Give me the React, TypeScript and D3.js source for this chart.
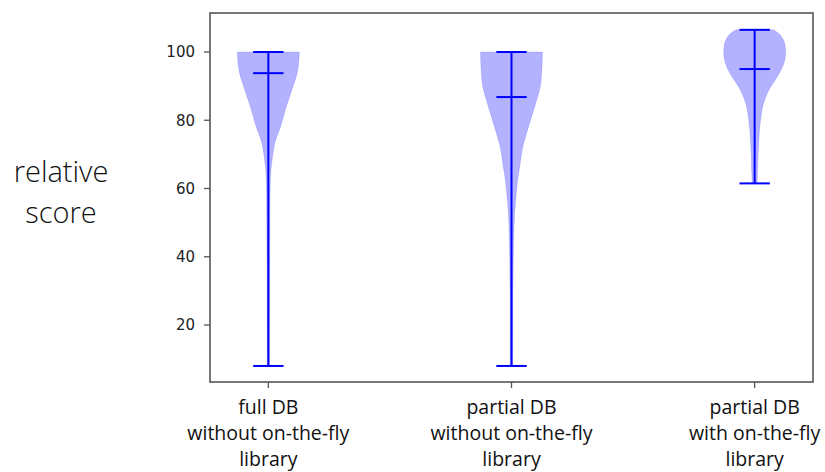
import React from "react";
import * as d3 from "d3";

// Three experimental conditions shown as violins
const categories = [
  ["full DB", "without on-the-fly", "library"],
  ["partial DB", "without on-the-fly", "library"],
  ["partial DB", "with on-the-fly", "library"],
];

// Summary statistics per condition
const minValues = [8, 8, 61.5];
const maxValues = [100, 100, 106.5];
const meanValues = [93.8, 86.8, 95];

// Relative density profiles (score, density as a fraction of the widest point)
const density1: [number, number][] = [
  [8, 0.035], [20, 0.04], [30, 0.042], [40, 0.045], [50, 0.05], [60, 0.058],
  [64.5, 0.075], [69, 0.13], [74, 0.23], [78, 0.39], [84, 0.58], [90, 0.8],
  [93.8, 0.93], [97, 0.98], [100, 1.0],
];
const density2: [number, number][] = [
  [8, 0.04], [25, 0.045], [38, 0.055], [45, 0.07], [52.7, 0.1], [57.5, 0.145],
  [62, 0.19], [66, 0.26], [72, 0.36], [79, 0.58], [86.8, 0.84], [90, 0.93],
  [95, 0.98], [100, 1.0],
];
const density3: [number, number][] = [
  [61.5, 0.08], [65.4, 0.097], [70.4, 0.113], [75, 0.14], [80, 0.19],
  [85, 0.29], [89.8, 0.52], [92, 0.68], [95, 0.87], [97.5, 0.97], [100, 1.0],
  [102, 0.98], [104, 0.9], [105.5, 0.77], [106.5, 0.6],
];
const densities = [density1, density2, density3];

const yTicks = [20, 40, 60, 80, 100];
const yLabelLines = ["relative", "score"];

export default function App() {
  const W = 825;
  const H = 472;
  const left = 210, right = 813, top = 13, bottom = 382;

  const x = d3.scaleLinear().domain([0.76, 3.24]).range([left, right]);
  const y = d3.scaleLinear().domain([3.3, 111.43]).range([bottom, top]);

  const violinWidth = 0.255; // in x units
  const capWidth = 0.125;
  const halfPx = (x(violinWidth) - x(0)) / 2;
  const capHalf = (x(capWidth) - x(0)) / 2;

  const tickFont = "'DejaVu Sans', sans-serif";
  const labelFont = "'Open Sans', sans-serif";

  return (
    <svg width={W} height={H} style={{ position: "absolute", left: 0, top: 0 }}>
      <rect width={W} height={H} fill="#fff" />

      {densities.map((dens, i) => {
        const cx = x(i + 1);
        const area = d3
          .area<[number, number]>()
          .y((d) => y(d[0]))
          .x0((d) => cx - d[1] * halfPx)
          .x1((d) => cx + d[1] * halfPx)
          .curve(d3.curveMonotoneY);
        return (
          <path
            key={"v" + i}
            d={area(dens) || ""}
            fill="rgb(0,0,255)"
            fillOpacity={0.3}
            stroke="rgb(0,0,255)"
            strokeOpacity={0.12}
            strokeWidth={1}
          />
        );
      })}

      {categories.map((_, i) => {
        const cx = x(i + 1);
        return (
          <g key={"l" + i} stroke="#0000ff" strokeWidth={2}>
            <line x1={cx} x2={cx} y1={y(minValues[i])} y2={y(maxValues[i])} />
            <line x1={cx - capHalf} x2={cx + capHalf} y1={y(minValues[i])} y2={y(minValues[i])} />
            <line x1={cx - capHalf} x2={cx + capHalf} y1={y(maxValues[i])} y2={y(maxValues[i])} />
            <line x1={cx - capHalf} x2={cx + capHalf} y1={y(meanValues[i])} y2={y(meanValues[i])} />
          </g>
        );
      })}

      {/* frame */}
      <rect
        x={left}
        y={top}
        width={right - left}
        height={bottom - top}
        fill="none"
        stroke="#555"
        strokeWidth={1.6}
      />

      {/* y ticks */}
      {yTicks.map((t) => (
        <g key={"yt" + t}>
          <line x1={left - 6} x2={left} y1={y(t)} y2={y(t)} stroke="#555" strokeWidth={1.3} />
          <text
            x={left - 15}
            y={y(t)}
            dy="0.35em"
            textAnchor="end"
            fontFamily={tickFont}
            fontSize={15}
            fill="#222"
          >
            {t}
          </text>
        </g>
      ))}

      {/* x ticks and category labels */}
      {categories.map((lines, i) => {
        const cx = x(i + 1);
        return (
          <g key={"xt" + i}>
            <line x1={cx} x2={cx} y1={bottom} y2={bottom + 6} stroke="#555" strokeWidth={1.3} />
            {lines.map((ln, j) => (
              <text
                key={j}
                x={cx}
                y={414 + j * 26}
                textAnchor="middle"
                fontFamily={labelFont}
                fontSize={19.5}
                fill="#111"
              >
                {ln}
              </text>
            ))}
          </g>
        );
      })}

      {/* y axis title */}
      {yLabelLines.map((ln, j) => (
        <text
          key={"yl" + j}
          x={61}
          y={182 + j * 41}
          textAnchor="middle"
          fontFamily={labelFont}
          fontWeight={300}
          fontSize={29}
          fill="#111"
        >
          {ln}
        </text>
      ))}
    </svg>
  );
}
